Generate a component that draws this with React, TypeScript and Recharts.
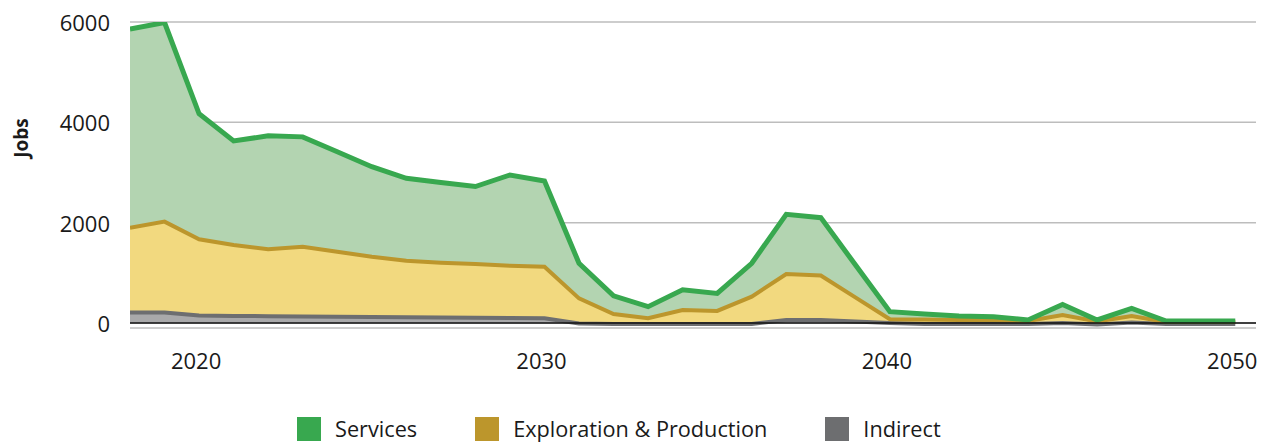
import React from 'react';
import {
  AreaChart, Area, XAxis, YAxis, CartesianGrid, Legend, ReferenceLine, Label
} from 'recharts';

const years = [
  2018, 2019, 2020, 2021, 2022, 2023, 2024, 2025, 2026, 2027, 2028,
  2029, 2030, 2031, 2032, 2033, 2034, 2035, 2036, 2037, 2038, 2039,
  2040, 2041, 2042, 2043, 2044, 2045, 2046, 2047, 2048, 2049, 2050,
];

const indirect = [
  210, 210, 150, 140, 135, 130, 125, 120, 115, 110, 105,
  100, 95, -10, -20, -20, -20, -20, -20, 60, 60, 30,
  0, -20, -20, -20, -20, 0, -30, 10, -20, -20, -20,
];

const exploration = [
  1690, 1810, 1520, 1415, 1335, 1390, 1295, 1200, 1125, 1090, 1070,
  1040, 1025, 500, 200, 115, 280, 260, 545, 915, 885, 480,
  75, 90, 80, 80, 60, 160, 60, 130, 40, 40, 40,
];

const services = [
  3960, 3970, 2500, 2075, 2260, 2190, 1995, 1795, 1645, 1600, 1545,
  1810, 1710, 700, 360, 230, 400, 350, 665, 1190, 1155, 650,
  150, 110, 80, 65, 20, 210, 30, 150, 20, 20, 20,
];

const xTicks = [2020, 2030, 2040, 2050];
const yTicks = [0, 2000, 4000, 6000];

// bottom-to-top stacking order
const series = [
  { key: 'indirect', name: 'Indirect', stroke: '#6d6e70', fill: '#a9a9aa', width: 4 },
  { key: 'exploration', name: 'Exploration & Production', stroke: '#bc962c', fill: '#f2d97f', width: 4 },
  { key: 'services', name: 'Services', stroke: '#38a84f', fill: '#b3d4b1', width: 5 },
];

const data = years.map((year, i) => ({
  year,
  indirect: indirect[i],
  exploration: exploration[i],
  services: services[i],
}));

const FONT = '"Open Sans", sans-serif';

const YTick = (props: any) => {
  const { x, y, payload } = props;
  return (
    <text x={x} y={y} dy={9} textAnchor="end" fontFamily={FONT} fontSize={22} fill="#1a1a1a">
      {payload.value}
    </text>
  );
};

const XTick = (props: any) => {
  const { x, y, payload } = props;
  return (
    <text x={x - 3} y={y} dy={16} textAnchor="middle" fontFamily={FONT} fontSize={22} fill="#1a1a1a">
      {payload.value}
    </text>
  );
};

const LegendBox = () => (
  <div style={{ display: 'flex', alignItems: 'center', fontFamily: FONT, fontSize: 21.7, lineHeight: '24px', color: '#1a1a1a' }}>
    {[...series].reverse().map((s) => (
      <div key={s.key} style={{ display: 'flex', alignItems: 'center', marginRight: 58 }}>
        <span style={{ width: 24, height: 24, background: s.stroke, display: 'inline-block', marginRight: 14 }} />
        <span>{s.name}</span>
      </div>
    ))}
  </div>
);

export default function App() {
  return (
    <div style={{ position: 'absolute', left: 0, top: 0, width: 1275, height: 443, background: '#fff' }}>
      <AreaChart width={1275} height={443} data={data} margin={{ top: 22, right: 19, left: 0, bottom: 0 }}>
        <CartesianGrid vertical={false} stroke="#bdbdbd" strokeWidth={1.5} />
        <XAxis
          dataKey="year"
          type="number"
          domain={[2018, 2050.6]}
          ticks={xTicks}
          allowDataOverflow
          axisLine={false}
          tickLine={false}
          tickSize={0}
          tickMargin={25}
          height={75}
          tick={<XTick />}
        />
        <YAxis
          type="number"
          domain={[-100, 6000]}
          ticks={yTicks}
          allowDataOverflow
          axisLine={false}
          tickLine={false}
          tickSize={0}
          tickMargin={20}
          width={130}
          tick={<YTick />}
        >
          <Label
            content={() => (
              <text
                x={28}
                y={138}
                transform="rotate(-90 28 138)"
                textAnchor="middle"
                fontFamily={FONT}
                fontWeight="bold"
                fontSize={19}
                fill="#1a1a1a"
              >
                Jobs
              </text>
            )}
          />
        </YAxis>
        {/* fills first */}
        {series.map((s) => (
          <Area
            key={`fill-${s.key}`}
            type="linear"
            dataKey={s.key}
            name={s.name}
            stackId="fills"
            stroke="none"
            fill={s.fill}
            fillOpacity={1}
            legendType="none"
            isAnimationActive={false}
          />
        ))}
        {/* outlines on top of all fills */}
        {series.map((s) => (
          <Area
            key={`line-${s.key}`}
            type="linear"
            dataKey={s.key}
            name={s.name}
            stackId="lines"
            stroke={s.stroke}
            strokeWidth={s.width}
            fill="none"
            legendType="none"
            isAnimationActive={false}
          />
        ))}
        <ReferenceLine y={0} stroke="#111" strokeWidth={1.5} />
        <Legend
          verticalAlign="bottom"
          height={40}
          content={<LegendBox />}
          wrapperStyle={{ left: 297, top: 417, width: 'auto' }}
        />
      </AreaChart>
    </div>
  );
}
